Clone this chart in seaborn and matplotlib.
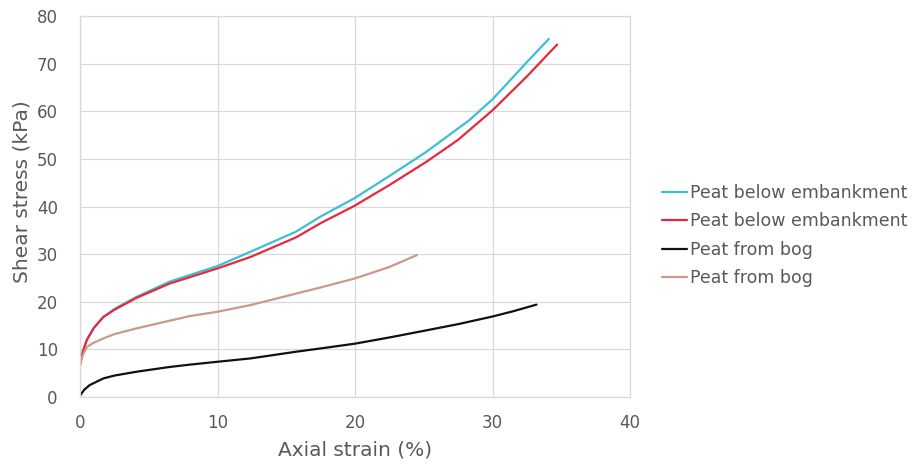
import matplotlib
matplotlib.use("Agg")
import matplotlib.pyplot as plt
import seaborn as sns
import pandas as pd

# Shear stress vs axial strain for peat samples
emb_a_strain = [0, 0.2, 0.5, 1, 1.7, 2.5, 4.1, 6.5, 10, 12.4, 15.7, 17.5, 20, 22.5, 25.2, 28.3, 30, 32.4, 34.1]
emb_a_stress = [6.7, 9.5, 12.0, 14.5, 16.8, 18.5, 21.0, 24.2, 27.5, 30.5, 34.7, 37.9, 41.8, 46.4, 51.5, 58.1, 62.5, 70.0, 75.2]

emb_b_strain = [0, 0.2, 0.5, 1, 1.7, 2.5, 4.1, 6.5, 10, 12.4, 15.7, 17.5, 20, 22.5, 25.2, 27.5, 30, 32.5, 34.7]
emb_b_stress = [6.7, 9.5, 12.0, 14.5, 16.8, 18.3, 20.8, 23.8, 27.0, 29.4, 33.5, 36.5, 40.2, 44.5, 49.4, 54.0, 60.2, 67.3, 74.0]

bog_a_strain = [0, 0.3, 0.7, 1.7, 2.5, 4.1, 6.5, 8, 10, 12.4, 15.7, 17.5, 20, 22.5, 25.2, 27.5, 30, 31.5, 33.2]
bog_a_stress = [0.3, 1.5, 2.5, 3.9, 4.5, 5.3, 6.3, 6.8, 7.4, 8.1, 9.5, 10.2, 11.2, 12.5, 14.0, 15.3, 16.9, 18.0, 19.4]

bog_b_strain = [0, 0.2, 0.5, 1, 1.7, 2.5, 4.1, 6.5, 8, 10, 12.4, 15.7, 17.5, 20, 22.5, 24.5]
bog_b_stress = [6.7, 8.8, 10.5, 11.4, 12.3, 13.2, 14.4, 16.0, 17.0, 17.9, 19.3, 21.7, 23.0, 24.9, 27.3, 29.8]

series_labels = ["Peat below embankment", "Peat below embankment", "Peat from bog", "Peat from bog"]
series_colors = ["#3cbfd3", "#e8283e", "#111111", "#c9998a"]

x_ticks = [0, 10, 20, 30, 40]
y_ticks = [0, 10, 20, 30, 40, 50, 60, 70, 80]

sns.set_theme(style="white")
plt.rcParams["font.family"] = ["DejaVu Sans"]
text_color = "#595959"
grid_color = "#d9d9d9"

fig = plt.figure(figsize=(9.15, 4.68), dpi=100)
ax = fig.add_axes([80 / 915, 1 - 397 / 468, 550 / 915, 381 / 468])

curves = [
    (emb_a_strain, emb_a_stress),
    (emb_b_strain, emb_b_stress),
    (bog_a_strain, bog_a_stress),
    (bog_b_strain, bog_b_stress),
]
for (xs, ys), lab, col in zip(curves, series_labels, series_colors):
    df = pd.DataFrame({"strain": xs, "stress": ys})
    sns.lineplot(data=df, x="strain", y="stress", ax=ax, color=col,
                 linewidth=1.6, label=lab, sort=False, estimator=None)

ax.set_xlim(0, 40)
ax.set_ylim(0, 80)
ax.set_xticks(x_ticks)
ax.set_yticks(y_ticks)
ax.grid(True, color=grid_color, linewidth=0.9)
ax.set_axisbelow(True)
for s in ax.spines.values():
    s.set_color(grid_color)
    s.set_linewidth(0.9)
ax.tick_params(axis="x", length=0, labelsize=12, colors=text_color, pad=12)
ax.tick_params(axis="y", length=0, labelsize=12, colors=text_color, pad=16)
ax.set_xlabel("Axial strain (%)", fontsize=14.5, color=text_color, labelpad=6)
ax.set_ylabel("Shear stress (kPa)", fontsize=14.5, color=text_color)
ax.yaxis.label.set_verticalalignment("center")
ax.yaxis.set_label_coords(-0.105, 0.538)

leg = ax.legend(loc="center left", bbox_to_anchor=(1.045, 0.424), frameon=False,
                fontsize=12.5, handlelength=1.45, handletextpad=0.2,
                labelspacing=0.6, borderaxespad=0)
for t in leg.get_texts():
    t.set_color(text_color)

fig.savefig("out.png", dpi=100, facecolor="white")
